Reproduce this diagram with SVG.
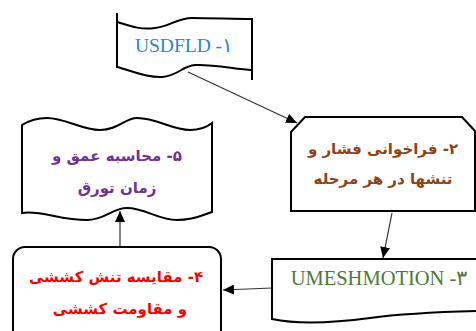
<svg xmlns="http://www.w3.org/2000/svg" width="476" height="331" viewBox="0 0 476 331">
  <style>
    .shape { fill: #ffffff; stroke: #000000; stroke-width: 2; stroke-linejoin: miter; }
    .edge { fill: none; stroke: #000000; stroke-width: 2; }
    .link { fill: none; stroke: #333333; stroke-width: 1.2; marker-end: url(#arrow); }
    .fa { font-family: "DejaVu Sans", "Noto Sans", sans-serif; font-weight: bold; font-size: 15px; text-anchor: middle; direction: rtl; unicode-bidi: embed; }
    .en { font-family: "Liberation Serif", "DejaVu Serif", serif; text-anchor: middle; direction: ltr; }
  </style>
  <defs>
    <marker id="arrow" viewBox="0 0 11 10" refX="11" refY="5" markerWidth="11" markerHeight="10" markerUnits="userSpaceOnUse" orient="auto">
      <path d="M0,0 L11,5 L0,10 z" fill="#000000"/>
    </marker>
  </defs>

  <!-- connectors -->
  <g id="connectors">
    <line class="link" x1="188" y1="72" x2="297" y2="123"/>
    <line class="link" x1="392" y1="213" x2="383" y2="258"/>
    <line class="link" x1="272" y1="288" x2="223" y2="290"/>
    <line class="link" x1="120" y1="247" x2="120" y2="211"/>
  </g>

  <!-- 1: USDFLD -->
  <g id="node1">
    <path class="shape" d="M117,22 C130,26 140,30 155,28 C170,26 178,18 192,18 C210,18 235,19 252,19 V70 C235,69 212,64 195,65 C182,66 178,76 162,77 C145,78 130,70 117,67 Z"/>
    <path class="edge" d="M117,13 V23 M252,69 V80"/>
    <text class="en" x="184" y="52" font-size="19.5" fill="#2a86cc">USDFLD -۱</text>
  </g>

  <!-- 2: load pressure and stresses -->
  <g id="node2">
    <path class="shape" d="M305,117 H462 L475,131 V211 H291 V132 Z"/>
    <text class="fa" x="383" y="154" font-size="15.5" fill="#8f4216">۲- فراخوانی فشار و</text>
    <text class="fa" x="383" y="184" font-size="15.5" fill="#8f4216">تنشها در هر مرحله</text>
  </g>

  <!-- 3: UMESHMOTION -->
  <g id="node3">
    <path class="shape" d="M272,259 H480 V311 C440,312 400,314 370,318 C340,322 300,325 272,319 Z"/>
    <text class="en" x="379" y="285" font-size="20.5" fill="#4e7a3a">UMESHMOTION -۳</text>
  </g>

  <!-- 4: compare tensile stress -->
  <g id="node4">
    <rect class="shape" x="13" y="247" width="208" height="110" rx="12" ry="12"/>
    <text class="fa" x="116" y="282" fill="#ff0000">۴- مقایسه تنش کششی</text>
    <text class="fa" x="120" y="314" fill="#ff0000">و مقاومت کششی</text>
  </g>

  <!-- 5: depth and time -->
  <g id="node5">
    <path class="shape" d="M22,125 C30,120 38,118 47,118 C65,118 82,130 100,130 C118,130 125,118 137,118 C157,118 172,130 190,130 C200,130 207,127 212,123 V212 C205,214 195,220 177,220 C158,220 145,208 127,208 C112,208 105,220 87,220 C60,220 40,210 22,213 Z"/>
    <text class="fa" x="117" y="161" font-size="14.5" fill="#7030a0">۵- محاسبه عمق و</text>
    <text class="fa" x="117" y="193" font-size="14.5" fill="#7030a0">زمان تورق</text>
  </g>
</svg>
